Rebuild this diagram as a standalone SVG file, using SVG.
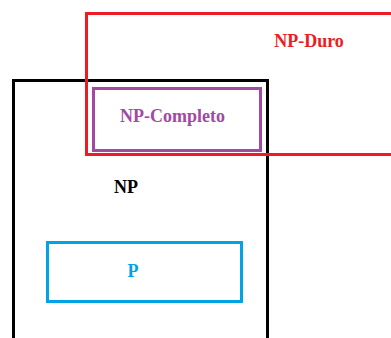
<svg xmlns="http://www.w3.org/2000/svg" width="391" height="338" viewBox="0 0 391 338">
<style>
rect{fill:none;stroke-width:3}
text{font-family:"Liberation Serif","Times New Roman",serif;font-weight:bold;font-size:18px;text-anchor:middle}
</style>
<rect width="391" height="338" style="stroke:none;fill:#fff"/>
<g id="np">
<rect x="13.5" y="80.5" width="254" height="270" stroke="#000"/>
<text x="126" y="193" fill="#000">NP</text>
</g>
<g id="np-duro">
<rect x="86.5" y="13.5" width="310" height="141" stroke="#ED1C24"/>
<text x="309" y="47" fill="#ED1C24">NP-Duro</text>
</g>
<g id="np-completo">
<rect x="93.5" y="88.5" width="167" height="62" stroke="#A349A4"/>
<text x="172.5" y="122" fill="#A349A4">NP-Completo</text>
</g>
<g id="p">
<rect x="47.5" y="242.5" width="194" height="59" stroke="#00A2E8"/>
<text x="133" y="277" fill="#00A2E8">P</text>
</g>
<g id="connectors"/>
</svg>
